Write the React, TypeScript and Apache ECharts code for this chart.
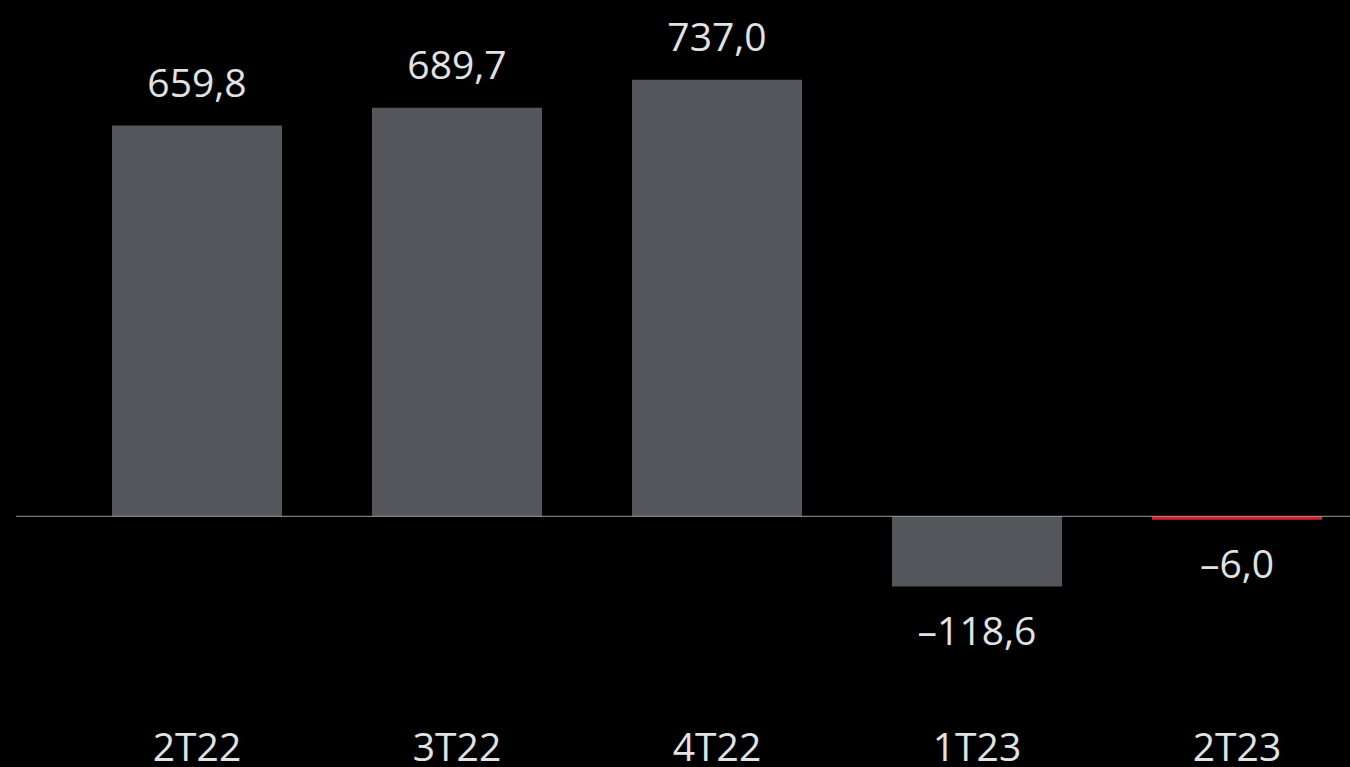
import React, { useEffect, useRef } from "react";
import * as echarts from "echarts";

const categories = ["2T22", "3T22", "4T22", "1T23", "2T23"];
const values = [659.8, 689.7, 737.0, -118.6, -6.0];
const barColors = ["#55565b", "#55565b", "#55565b", "#55565b", "#e11f2b"];

const fmt = (v: number) => (v < 0 ? "–" : "") + Math.abs(v).toFixed(1).replace(".", ",");

export default function App() {
  const ref = useRef<HTMLDivElement>(null);
  useEffect(() => {
    document.body.style.margin = "0";
    document.body.style.background = "#000";
    const chart = echarts.init(ref.current!, undefined, { renderer: "svg" });
    const font = "'Open Sans', 'Noto Sans', sans-serif";
    chart.setOption({
      animation: false,
      backgroundColor: "#000000",
      grid: { left: 67, width: 1300, top: 1, height: 693, outerBoundsMode: "none", containLabel: false },
      xAxis: {
        type: "category",
        data: categories,
        axisLine: { show: false, onZero: false },
        axisTick: { show: false },
        axisLabel: { color: "#e2e2e2", fontSize: 39, lineHeight: 30, fontFamily: font, margin: 36 },
      },
      yAxis: {
        type: "value",
        min: -300,
        max: 870,
        show: false,
        splitLine: { show: false },
      },
      series: [
        {
          type: "bar",
          barWidth: 170,
          data: values.map((v, i) => ({
            value: v,
            itemStyle: { color: barColors[i] },
            label: {
              show: true,
              position: v < 0 ? "bottom" : "top",
              distance: v < 0 ? 23 : 25,
              formatter: () => fmt(v),
              color: "#e2e2e2",
              fontSize: 39,
              fontFamily: font,
            },
          })),
        },
      ],
    });
    const y0 = chart.convertToPixel({ yAxisIndex: 0 }, 0) as number;
    chart.setOption({
      graphic: [
        {
          type: "line",
          z: 10,
          shape: { x1: 16, y1: y0, x2: 1350, y2: y0 },
          style: { stroke: "#9a9a9a", lineWidth: 1 },
        },
      ],
    });
    return () => chart.dispose();
  }, []);
  return <div ref={ref} style={{ width: 1350, height: 767 }} />;
}
